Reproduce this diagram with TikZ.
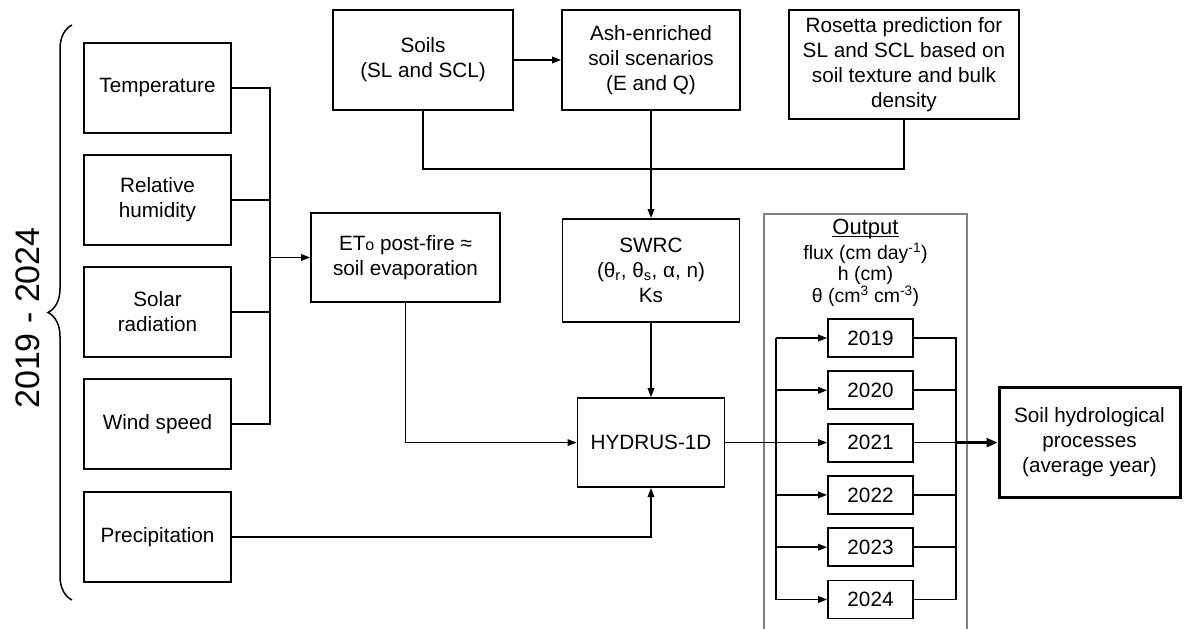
\documentclass[tikz,border=0pt]{standalone}
\usepackage{fontspec}
\setmainfont{Liberation Sans}
\usetikzlibrary{arrows.meta,decorations.pathreplacing}

\begin{document}
\begin{tikzpicture}[x=1pt,y=-1pt,
    >={Triangle[length=9pt,width=6.5pt]},
    font=\fontsize{20.7}{25}\selectfont,
    box/.style={draw, line width=1.8pt, align=center, inner sep=2pt},
    metbox/.style={box, minimum width=147pt, minimum height=90pt},
    yrbox/.style={box, minimum width=85pt, minimum height=38pt},
    wire/.style={line width=1.7pt},
    frame/.style={draw=black!50, line width=1.2pt}]
    \useasboundingbox (0,0) rectangle (1184,629);

    % weather inputs
    \node[metbox] (temp) at (157.5,88) {Temperature};
    \node[metbox] (hum) at (157.5,200) {Relative\\humidity};
    \node[metbox] (solar) at (157.5,312) {Solar\\radiation};
    \node[metbox] (wind) at (157.5,424) {Wind speed};
    \node[metbox] (precip) at (157.5,537) {Precipitation};
    \node[rotate=90, font=\fontsize{34}{34}\selectfont] (period) at (28,318) {2019 - 2024};
    \draw[line width=1.5pt, decorate, decoration={brace, amplitude=24pt}] (72,600) -- (72,25);

    % soil inputs
    \node[box, minimum width=180pt, minimum height=100pt] (soils) at (423,60)
      {Soils\\(SL and SCL)};
    \node[box, minimum width=178pt, minimum height=100pt] (ash) at (651,60)
      {Ash-enriched\\soil scenarios\\(E and Q)};
    \node[box, minimum width=230pt, minimum height=109pt] (rosetta) at (904,64.5)
      {Rosetta prediction for\\SL and SCL based on\\soil texture and bulk\\density};

    \node[box, minimum width=189pt, minimum height=89pt] (eto) at (405.5,257.5)
      {ET{\fontsize{16}{16}\selectfont o} post-fire ≈\\soil evaporation};
    \node[box, minimum width=177pt, minimum height=103pt] (swrc) at (651,270.5)
      {SWRC\\(θ\textsubscript{r}, θ\textsubscript{s}, α, n)\\Ks};
    \node[box, minimum width=147pt, minimum height=89pt] (hydrus) at (651,442.6)
      {HYDRUS-1D};

    % output years
    \draw[frame] (764,629) |- (967,214) -- (967,629);
    \node (outtitle) at (865.5,228) {\fontsize{22}{25}\selectfont\underline{Out\smash{p}ut}};
    \node[align=center, font=\fontsize{19.5}{21}\selectfont] (outvars) at (865.5,275)
      {flux (cm day\textsuperscript{-1})\\h (cm)\\θ (cm\textsuperscript{3} cm\textsuperscript{-3})};
    \node[yrbox] (y2019) at (870.5,338) {2019};
    \node[yrbox] (y2020) at (870.5,390.3) {2020};
    \node[yrbox] (y2021) at (870.5,442.6) {2021};
    \node[yrbox] (y2022) at (870.5,494.9) {2022};
    \node[yrbox] (y2023) at (870.5,547.2) {2023};
    \node[yrbox] (y2024) at (870.5,599.5) {2024};
    \node[box, line width=3pt, minimum width=181pt, minimum height=110pt] (final) at (1089.5,442.6)
      {Soil hydrological\\processes\\(average year)};

    % connectors
    \coordinate (metbus) at (270,257.5);
    \draw[wire] (temp.east) -| (metbus);
    \draw[wire] (hum.east) -| (metbus);
    \draw[wire] (solar.east) -| (metbus);
    \draw[wire] (wind.east) -| (metbus);
    \draw[wire, ->] (metbus) -- (eto.west);
    \draw[wire, ->] (precip.east) -| (hydrus.south);
    \draw[wire, ->] (eto.south) |- (hydrus.west);
    \draw[wire, ->] (swrc.south) -- (hydrus.north);

    \draw[wire, ->] (soils.east) -- (ash.west);
    \coordinate (join) at (651,169);
    \draw[wire] (soils.south) |- (join);
    \draw[wire] (rosetta.south) |- (join);
    \draw[wire, ->] (ash.south) -- (swrc.north);

    \draw[wire, ->] (hydrus.east) -- (y2021.west);
    \coordinate (split) at (776,338);
    \coordinate (merge) at (956,338);
    \draw[wire] (split) -- (split |- y2024.west);
    \draw[wire, ->] (split) -- (y2019.west);
    \draw[wire, ->] (split |- y2020.west) -- (y2020.west);
    \draw[wire, ->] (split |- y2022.west) -- (y2022.west);
    \draw[wire, ->] (split |- y2023.west) -- (y2023.west);
    \draw[wire, ->] (split |- y2024.west) -- (y2024.west);
    \draw[wire] (y2019.east) -- (merge) -- (merge |- y2024.east) -- (y2024.east);
    \draw[wire] (y2020.east) -- (merge |- y2020.east);
    \draw[wire] (y2021.east) -- (merge |- y2021.east);
    \draw[wire] (y2022.east) -- (merge |- y2022.east);
    \draw[wire] (y2023.east) -- (merge |- y2023.east);
    \draw[line width=3pt, -{Triangle[length=11pt,width=9pt]}] (merge |- final.west) -- (final.west);
\end{tikzpicture}
\end{document}
